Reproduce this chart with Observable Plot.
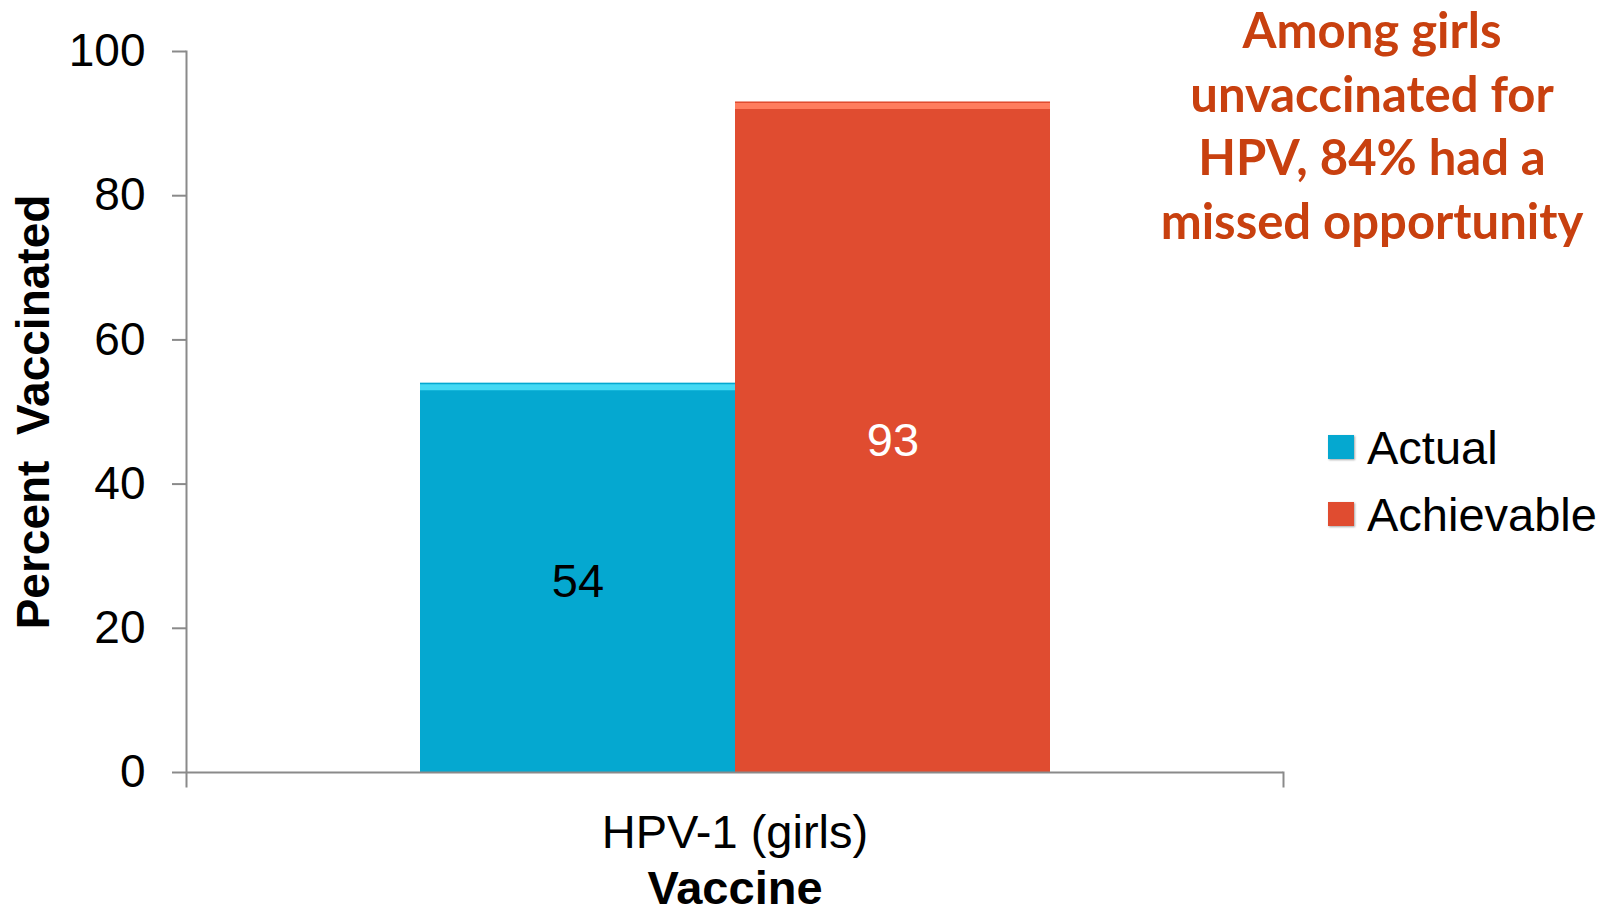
<!DOCTYPE html>
<html>
<head>
<meta charset="utf-8">
<script src="https://cdn.jsdelivr.net/npm/d3@7"></script>
<script src="https://cdn.jsdelivr.net/npm/@observablehq/plot@0.6"></script>
<style>
  html, body { margin: 0; padding: 0; background: #fff; }
  #wrap { position: relative; width: 1611px; height: 913px; overflow: hidden; }
  #chart svg { display: block; }
  [aria-label="y-axis label"] text, [aria-label="fx-axis label"] text { font-weight: bold; }
  [aria-label="y-axis label"] text { white-space: pre; }
  .note { position: absolute; left: 1122px; width: 500px; top: -2px; text-align: center;
          font-family: Lato, "Open Sans", sans-serif; font-weight: bold; font-size: 49px;
          line-height: 63.5px; color: #C8400F; }
  .legend { position: absolute; left: 1328px; top: 0; font-family: "Liberation Sans", Arial, sans-serif; font-size: 47px; color: #000; }
  .legend .row { position: absolute; left: 0; white-space: nowrap; display: flex; align-items: center; height: 50px; }
  .legend .sw { width: 26px; height: 24px; margin-right: 13px; box-shadow: 1px 1px 2px rgba(0,0,0,0.35); }
</style>
</head>
<body>
<div id="wrap">
  <div id="chart"></div>
  <div class="note" id="note"></div>
  <div class="legend" id="legend"></div>
</div>
<script>
const categories = ["HPV-1 (girls)"];
const series = ["Actual", "Achievable"];
const values = [54, 93];
const seriesColors = ["#05A8D0", "#E04C30"];
const bevelColors = ["#45D9F4", "#FF7D5E"];
const labelColors = ["#000000", "#FFFFFF"];
const yTicks = [0, 20, 40, 60, 80, 100];
const noteLines = ["Among girls", "unvaccinated for", "HPV, 84% had a", "missed opportunity"];

const data = series.map((s, i) => ({category: categories[0], series: s, value: values[i]}));

const chart = Plot.plot({
  width: 1611,
  height: 913,
  marginLeft: 186,
  marginRight: 328,
  marginTop: 51,
  marginBottom: 141,
  style: {fontFamily: "'Liberation Sans', Arial, sans-serif", fontSize: "46px", color: "#000", background: "#fff"},
  fx: {domain: categories, padding: 0},
  x: {domain: series, paddingInner: 0, paddingOuter: 0.741, axis: null},
  y: {domain: [0, 100]},
  color: {domain: series, range: seriesColors},
  marks: [
    Plot.barY(data, {fx: "category", x: "series", y: "value", fill: "series"}),
    ...series.map((s, i) => Plot.tickY(data.filter(d => d.series === s), {fx: "category", x: "series", y: "value", stroke: bevelColors[i], strokeWidth: 6, dy: 4})),
    ...series.map((s, i) => Plot.text(data.filter(d => d.series === s), {fx: "category", x: "series", y: d => d.value / 2, text: d => String(d.value), fill: labelColors[i], fontSize: 47, dy: 4})),
    Plot.ruleY([0], {stroke: "#8a8a8a", strokeWidth: 2}),
    Plot.frame({anchor: "left", stroke: "#8a8a8a", strokeWidth: 2, insetBottom: -14}),
    Plot.frame({anchor: "right", stroke: "#8a8a8a", strokeWidth: 2, insetTop: 721, insetBottom: -14}),
    Plot.axisY({ticks: yTicks, tickSize: 14, tickPadding: 27, stroke: "#8a8a8a", strokeWidth: 2, fill: "#000", fontSize: 46,
      label: "Percent  Vaccinated", labelAnchor: "center", labelOffset: 170, labelArrow: "none"}),
    Plot.axisFx({anchor: "bottom", tickSize: 0, tickPadding: 42, fill: "#000", fontSize: 47, label: "Vaccine", labelAnchor: "center", labelOffset: 131, labelArrow: "none"})
  ]
});
document.getElementById("chart").appendChild(chart);

document.getElementById("note").innerHTML = noteLines.map(l => `<div>${l}</div>`).join("");

const legend = document.getElementById("legend");
const legendTops = [422, 489];
series.forEach((s, i) => {
  const row = document.createElement("div");
  row.className = "row";
  row.style.top = legendTops[i] + "px";
  row.innerHTML = `<span class="sw" style="background:${seriesColors[i]}"></span><span>${s}</span>`;
  legend.appendChild(row);
});
</script>
</body>
</html>
